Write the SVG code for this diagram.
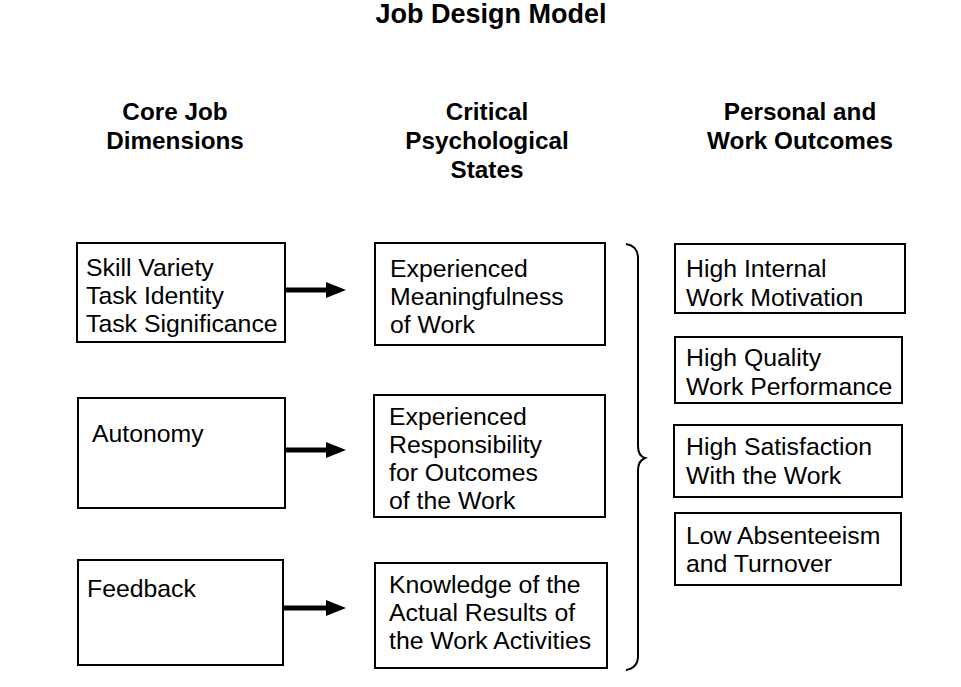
<svg xmlns="http://www.w3.org/2000/svg" width="961" height="687" viewBox="0 0 961 687">
<defs>
<style>
.box{fill:#fff;stroke:#000;stroke-width:2}
.t{font-family:"Liberation Sans",Arial,sans-serif;font-size:24.8px;fill:#000}
.h{font-family:"Liberation Sans",Arial,sans-serif;font-size:24.3px;font-weight:bold;fill:#000;text-anchor:middle}
.ttl{font-family:"Liberation Sans",Arial,sans-serif;font-size:27px;font-weight:bold;fill:#000;text-anchor:middle}
.conn{stroke:#000;stroke-width:5;fill:none}
.brace{stroke:#000;stroke-width:2;fill:none}
</style>
<marker id="ah" markerWidth="4" markerHeight="3.2" refX="0" refY="1.6" orient="auto" markerUnits="strokeWidth">
<path d="M0,0 L4,1.6 L0,3.2 Z" fill="#000"/>
</marker>
</defs>
<rect width="961" height="687" fill="#fff"/>
<text class="ttl" x="491" y="23">Job Design Model</text>
<g id="headers">
<text class="h" x="175" y="120">Core Job</text>
<text class="h" x="175" y="149">Dimensions</text>
<text class="h" x="487" y="120">Critical</text>
<text class="h" x="487" y="149">Psychological</text>
<text class="h" x="487" y="178">States</text>
<text class="h" x="800" y="120">Personal and</text>
<text class="h" x="800" y="149">Work Outcomes</text>
</g>
<g id="skill">
<rect class="box" x="77" y="243" width="208" height="99"/>
<text class="t" x="86" y="276">Skill Variety</text>
<text class="t" x="86" y="304">Task Identity</text>
<text class="t" x="86" y="332">Task Significance</text>
</g>
<g id="autonomy">
<rect class="box" x="78" y="398" width="207" height="110"/>
<text class="t" x="92" y="442">Autonomy</text>
</g>
<g id="feedback">
<rect class="box" x="78" y="560" width="205" height="105"/>
<text class="t" x="87" y="597">Feedback</text>
</g>
<g id="meaningfulness">
<rect class="box" x="375" y="243" width="230" height="102"/>
<text class="t" x="390" y="277">Experienced</text>
<text class="t" x="390" y="305">Meaningfulness</text>
<text class="t" x="390" y="333">of Work</text>
</g>
<g id="responsibility">
<rect class="box" x="374" y="395" width="231" height="122"/>
<text class="t" x="389" y="425">Experienced</text>
<text class="t" x="389" y="453">Responsibility</text>
<text class="t" x="389" y="481">for Outcomes</text>
<text class="t" x="389" y="509">of the Work</text>
</g>
<g id="knowledge">
<rect class="box" x="375" y="563" width="232" height="105"/>
<text class="t" x="389" y="593">Knowledge of the</text>
<text class="t" x="389" y="621">Actual Results of</text>
<text class="t" x="389" y="649">the Work Activities</text>
</g>
<g id="motivation">
<rect class="box" x="675" y="244" width="230" height="69"/>
<text class="t" x="686" y="277">High Internal</text>
<text class="t" x="686" y="306">Work Motivation</text>
</g>
<g id="performance">
<rect class="box" x="675" y="337" width="227" height="66"/>
<text class="t" x="686" y="366">High Quality</text>
<text class="t" x="686" y="395">Work Performance</text>
</g>
<g id="satisfaction">
<rect class="box" x="674" y="425" width="228" height="72"/>
<text class="t" x="686" y="455">High Satisfaction</text>
<text class="t" x="686" y="484">With the Work</text>
</g>
<g id="absenteeism">
<rect class="box" x="675" y="513" width="226" height="72"/>
<text class="t" x="686" y="544">Low Absenteeism</text>
<text class="t" x="686" y="572">and Turnover</text>
</g>
<g id="connectors">
<line class="conn" x1="285" y1="290" x2="326" y2="290" marker-end="url(#ah)"/>
<line class="conn" x1="285" y1="450" x2="326" y2="450" marker-end="url(#ah)"/>
<line class="conn" x1="283" y1="608" x2="326" y2="608" marker-end="url(#ah)"/>
<path class="brace" d="M626,244 Q638,246 638,258 L638,446 Q638,456 645,458 Q638,461 638,470 L638,656 Q638,668 626,670"/>
</g>
</svg>
